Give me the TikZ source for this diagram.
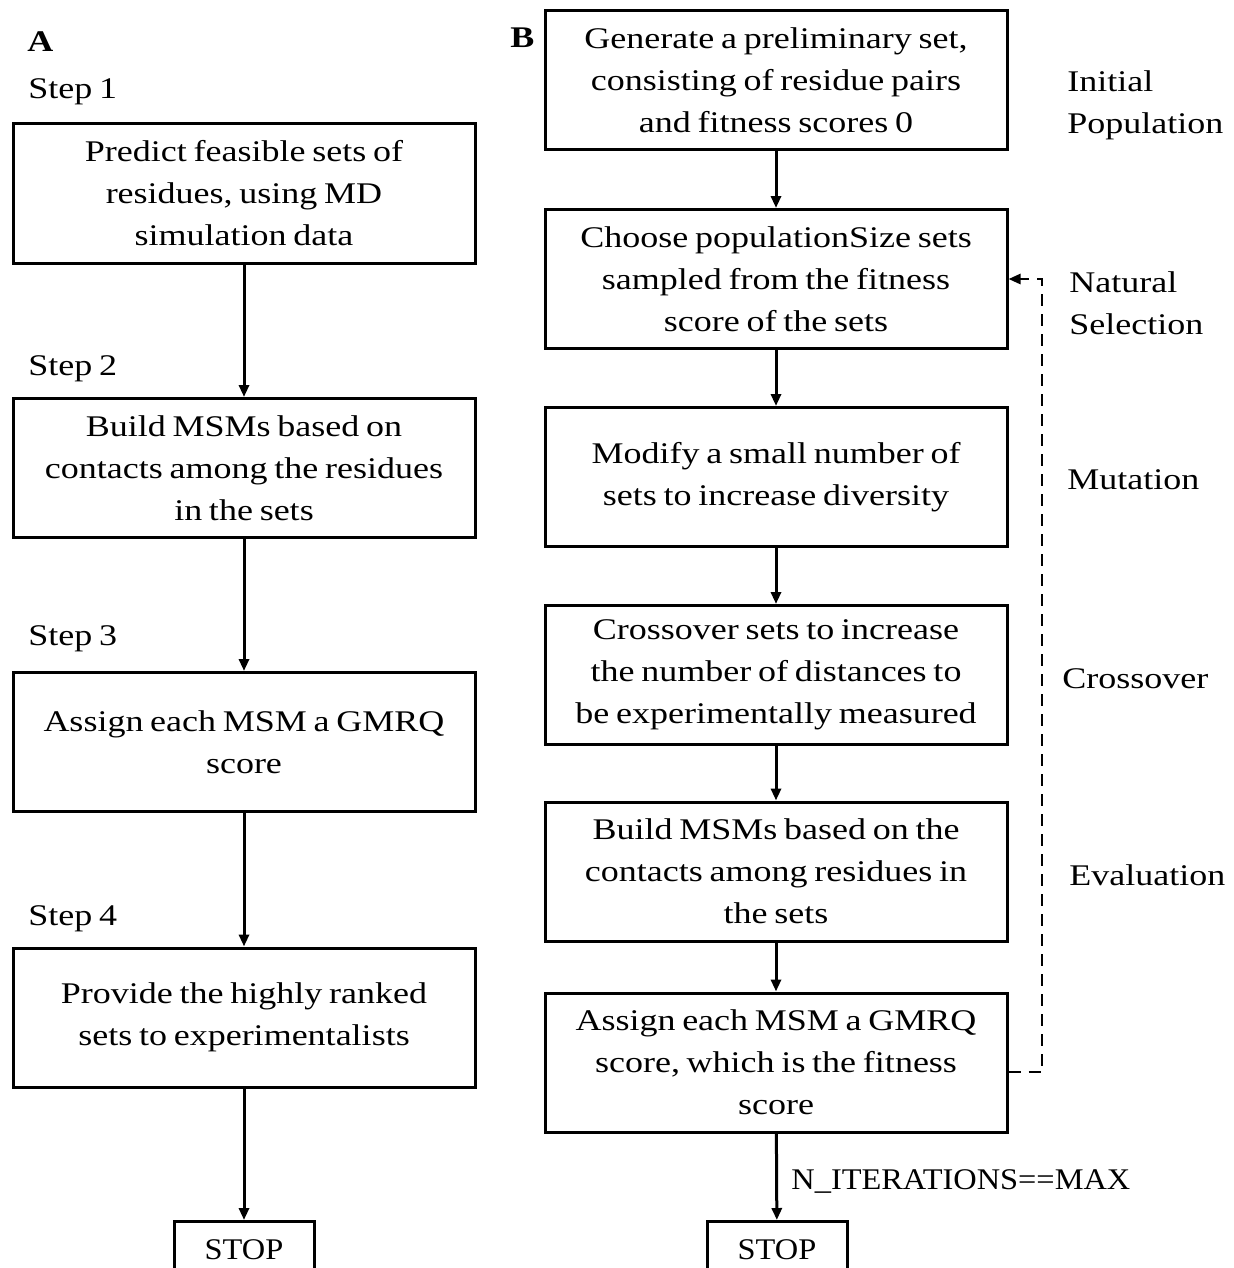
\documentclass[tikz,border=0pt]{standalone}
\usepackage{fontspec}
\setmainfont{Liberation Serif}[FakeStretch=1.2, WordSpace=0.75]
\newfontfamily\capsfont{Liberation Serif}[FakeStretch=1.08]
\usetikzlibrary{arrows.meta}
\newcommand\diagfs{\fontsize{15}{21}\selectfont}
\begin{document}
\begin{tikzpicture}[x=0.5pt,y=-0.5pt,
  box/.style={draw, line width=1.5pt, minimum width=231pt, minimum height=69.5pt, align=center, inner sep=0pt, font=\diagfs},
  stopbox/.style={draw, line width=1.5pt, minimum width=70pt, minimum height=28pt, inner sep=0pt, font=\diagfs\capsfont},
  lbl/.style={anchor=west, align=left, inner sep=0pt, font=\diagfs},
  ttl/.style={anchor=west, inner sep=0pt, font=\diagfs\bfseries},
  arr/.style={line width=1.5pt, -{Triangle[length=6pt,width=5pt]}},
  darr/.style={line width=1.3pt, dash pattern=on 6pt off 4pt, -{Triangle[length=6pt,width=5pt]}}]
\useasboundingbox (0,0) rectangle (1233,1268);
\clip (0,0) rectangle (1233,1268);
% panel A
\node[ttl] (tA) at (27,42) {A};
\node[lbl] (s1) at (28,92) {Step 1};
\node[lbl] (s2) at (28,369) {Step 2};
\node[lbl] (s3) at (28,639) {Step 3};
\node[lbl] (s4) at (28,919) {Step 4};
\node[box] (a1) at (244,193.5) {Predict feasible sets of\\residues, using MD\\simulation data};
\node[box] (a2) at (244,468) {Build MSMs based on\\contacts among the residues\\in the sets};
\node[box] (a3) at (244,742) {Assign each MSM a GMRQ\\score};
\node[box] (a4) at (244,1017.5) {Provide the highly ranked\\sets to experimentalists};
\node[stopbox, anchor=north] (a5) at (244,1220) {STOP};
\draw[arr] (a1) -- (a2);
\draw[arr] (a2) -- (a3);
\draw[arr] (a3) -- (a4);
\draw[arr] (a4) -- (a5);
% panel B
\node[ttl] (tB) at (510,38) {B};
\node[box] (b1) at (776,80) {Generate a preliminary set,\\consisting of residue pairs\\and fitness scores 0};
\node[box] (b2) at (776,279) {Choose populationSize sets\\sampled from the fitness\\score of the sets};
\node[box] (b3) at (776,477) {Modify a small number of\\sets to increase diversity};
\node[box] (b4) at (776,675) {Crossover sets to increase\\the number of distances to\\be experimentally measured};
\node[box] (b5) at (776,871.5) {Build MSMs based on the\\contacts among residues in\\the sets};
\node[box] (b6) at (776,1062.5) {Assign each MSM a GMRQ\\score, which is the fitness\\score};
\node[stopbox, anchor=north] (b7) at (777,1220) {STOP};
\draw[arr] (b1) -- (b2);
\draw[arr] (b2) -- (b3);
\draw[arr] (b3) -- (b4);
\draw[arr] (b4) -- (b5);
\draw[arr] (b5) -- (b6);
\draw[arr] (b6) -- (b7);
\node[lbl, font=\diagfs\capsfont] (cond) at (791,1181) {N\_ITERATIONS==MAX};
\coordinate (dR) at (1042,1072);
\draw[darr] ([yshift=-4.75pt]b6.east) -- (dR) |- (b2.east);
\node[lbl] (l1) at (1067,105) {Initial\\Population};
\node[lbl] (l2) at (1069,303) {Natural\\Selection};
\node[lbl] (l3) at (1067,480) {Mutation};
\node[lbl] (l4) at (1062,679) {Crossover};
\node[lbl] (l5) at (1069,875) {Evaluation};
\end{tikzpicture}
\end{document}
